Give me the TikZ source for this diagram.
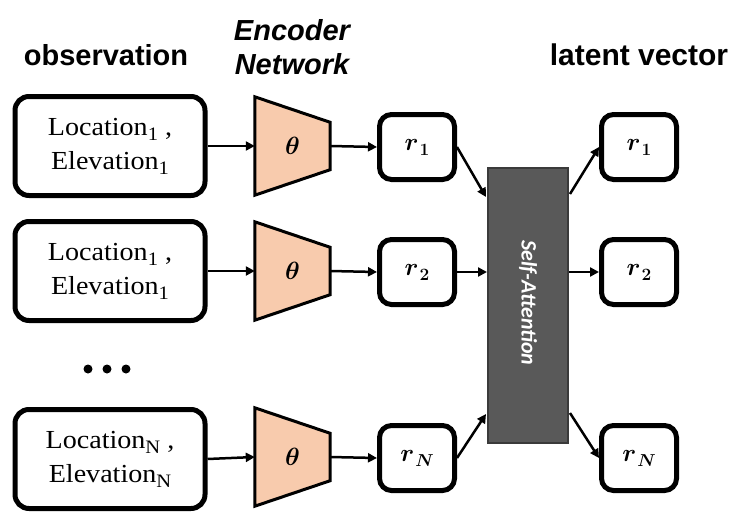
\documentclass[tikz,border=0pt]{standalone}
\usepackage{amsmath,bm}
\usepackage{fontspec}
\newfontfamily\hdfont{Liberation Sans}
\newfontfamily\califont{Carlito}
\newfontfamily\obsfont[FakeStretch=1.08]{Liberation Serif}
\usetikzlibrary{arrows.meta,calc}
\definecolor{peach}{HTML}{F8CBAD}
\definecolor{safill}{HTML}{595959}
\definecolor{saline}{HTML}{3A3A3A}
\newcommand{\lsub}[1]{\raisebox{-5pt}{\fontsize{19}{19}\selectfont #1}}
\newcommand{\rlab}[1]{$\bm{r}$\kern1pt\raisebox{-5pt}{\fontsize{19}{19}\selectfont$\bm{#1}$}}
\tikzset{
  obs/.style={draw, line width=5pt, rounded corners=14pt, minimum width=190pt, minimum height=99pt,
    font=\obsfont\fontsize{26}{34}\selectfont, align=center, inner sep=0pt},
  rbox/.style={draw, line width=5pt, rounded corners=12pt, minimum width=75pt, minimum height=65pt,
    font=\fontsize{27}{30}\selectfont},
  encslot/.style={minimum width=75pt, minimum height=98pt, inner sep=0pt},
  trap/.style={draw, line width=3pt, fill=peach, line join=miter},
  arr/.style={-{Triangle[length=9pt,width=9pt]}, line width=2.5pt},
  head/.style={font=\hdfont\bfseries\fontsize{29}{34}\selectfont, align=center, inner sep=0pt},
}
\newcommand{\trapez}[1]{%
  \draw[trap] (#1.north west) -- ($(#1.north east)+(0,25.5)$) -- ($(#1.south east)+(0,-25.5)$) -- (#1.south west) -- cycle;}
\begin{document}
\begin{tikzpicture}[x=1pt,y=-1pt]
\useasboundingbox (0,0) rectangle (747,514);

% headings
\node[head] (hobs) at (106,55) {observation};
\node[head, font=\hdfont\bfseries\itshape\fontsize{29}{34}\selectfont] (henc) at (292,47) {Encoder\\Network};
\node[head, font=\hdfont\bfseries\fontsize{30}{34}\selectfont] (hlat) at (639,55) {latent vector};

% observation boxes
\node[obs] (o1) at (110,146) {Location\lsub{1} ,\\Elevation\lsub{1}};
\node[obs] (o2) at (110,271) {Location\lsub{1} ,\\Elevation\lsub{1}};
\node[obs] (o3) at (110,459) {Location\lsub{N} ,\\Elevation\lsub{N}};

% dots
\fill (88,369) circle (4.5pt) (107,369) circle (4.5pt) (126,369) circle (4.5pt);

% encoders
\node[encslot] (e1) at (292.5,146) {};
\node[encslot] (e2) at (292.5,271) {};
\node[encslot] (e3) at (292.5,457) {};
\trapez{e1}\trapez{e2}\trapez{e3}
\node[font=\fontsize{24}{26}\selectfont] (th1) at (e1) {$\bm{\theta}$};
\node[font=\fontsize{24}{26}\selectfont] (th2) at (e2) {$\bm{\theta}$};
\node[font=\fontsize{24}{26}\selectfont] (th3) at (e3) {$\bm{\theta}$};

% r boxes
\node[rbox] (r1) at (417,147) {\rlab{1}};
\node[rbox] (r2) at (417,272) {\rlab{2}};
\node[rbox] (r3) at (417,458) {\rlab{N}};
\node[rbox] (q1) at (639,147) {\rlab{1}};
\node[rbox] (q2) at (639,272) {\rlab{2}};
\node[rbox] (q3) at (639,458) {\rlab{N}};

% self-attention
\node[draw=saline, line width=2pt, fill=safill, minimum width=80pt, minimum height=275pt, inner sep=0pt] (sa) at (528,305.5) {};
\node[rotate=-90, text=white, font=\califont\bfseries\itshape\fontsize{22}{24}\selectfont] (satext) at (528,303) {Self-Attention};

% arrows
\draw[arr] (o1.east) -- (e1.west);
\draw[arr] (o2.east) -- (e2.west);
\draw[arr] (o3.east) -- (e3.west);
\draw[arr] (e1.east) -- (r1.west);
\draw[arr] (e2.east) -- (r2.west);
\draw[arr] (e3.east) -- (r3.west);
\draw[arr] (r1.east) -- ($(sa.north west)+(-1,30)$);
\draw[arr] (r2.east) -- (sa.west |- r2.east);
\draw[arr] (r3.east) -- ($(sa.south west)+(-1,-30)$);
\draw[arr] ($(sa.north east)+(1,27)$) -- (q1.west);
\draw[arr] (sa.east |- q2.west) -- (q2.west);
\draw[arr] ($(sa.south east)+(1,-31)$) -- (q3.west);
\end{tikzpicture}
\end{document}
